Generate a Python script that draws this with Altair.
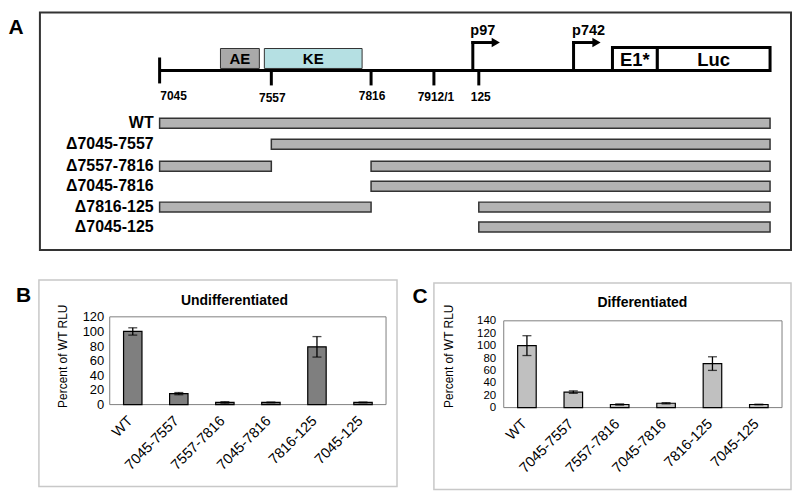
import altair as alt
import pandas as pd

FONT = "Liberation Sans"

# ---------------- Panel A: schematic map (schematic map units) ----------------
landmarks = ["7045", "7557", "7816", "7912/1", "125", "end"]
landmark_x = [150, 262, 362, 425, 470, 762]
tick_y1 = [49, 62, 62, 62, 62]
tick_y2 = [75, 77, 77, 77, 77]
tick_label_x = [164, 263, 363, 427, 472]
tick_label_y = [92, 94, 92, 93, 93]

constructs = ["WT", "Δ7045-7557", "Δ7557-7816", "Δ7045-7816", "Δ7816-125", "Δ7045-125"]
construct_row = [115, 136, 158, 178, 199, 219]
kept_start = [["7045"], ["7557"], ["7045", "7816"], ["7816"], ["7045", "125"], ["125"]]
kept_end = [["end"], ["end"], ["7557", "end"], ["end"], ["7816", "end"], ["end"]]

elements = ["AE", "KE"]
element_x1 = [211, 255]
element_x2 = [250, 353]
element_fill = ["#a9a9a9", "#b5e0e3"]

reporters = ["E1*", "Luc"]
reporter_x1 = [604, 649]
reporter_x2 = [649, 762]

promoters = ["p97", "p742"]
promoter_x = [464, 565]
promoter_label_x = [474, 580]

# ---------------- Panels B, C: luciferase data ----------------
samples = ["WT", "7045-7557", "7557-7816", "7045-7816", "7816-125", "7045-125"]
undiff = [100, 15, 3, 3, 79, 3]
undiff_err = [5, 1.5, 1, 0.5, 14, 0.5]
diff = [100, 25, 5, 7, 71, 5]
diff_err = [16, 2, 1, 1, 11, 0.5]

# ---------------- build panel A ----------------
xs = alt.Scale(domain=[0, 784], nice=False, zero=False)
ys = alt.Scale(domain=[0, 264], nice=False, zero=False, reverse=True)
lm = dict(zip(landmarks, landmark_x))


def X(f):
    return alt.X(f, type="quantitative", scale=xs, axis=None)


def Y(f):
    return alt.Y(f, type="quantitative", scale=ys, axis=None)


one = alt.Data(values=[{"a": 1}])

frameA = alt.Chart(one).mark_rect(fill=None, stroke="#333333", strokeWidth=2).encode(
    x=alt.value(30), x2=alt.value(783), y=alt.value(4), y2=alt.value(242))
letterA = alt.Chart(one).mark_text(text="A", font=FONT, fontSize=21, fontWeight="bold",
                                   align="center", baseline="alphabetic").encode(
    x=alt.value(6), y=alt.value(25))

main_df = pd.DataFrame({"x1": [lm["7045"]], "x2": [reporter_x1[0]], "y": [62]})
main_line = alt.Chart(main_df).mark_rule(color="black", strokeWidth=3).encode(
    x=X("x1"), x2="x2", y=Y("y"))

ticks_df = pd.DataFrame({"x": landmark_x[:5], "y1": tick_y1, "y2": tick_y2,
                         "lab": landmarks[:5], "lx": tick_label_x, "ly": tick_label_y})
ticks = alt.Chart(ticks_df).mark_rule(color="black", strokeWidth=3).encode(
    x=X("x"), y=Y("y1"), y2="y2")
tick_labels = alt.Chart(ticks_df).mark_text(font=FONT, fontSize=12, fontWeight="bold",
                                            baseline="alphabetic").encode(
    x=X("lx"), y=Y("ly"), text="lab:N")

el_df = pd.DataFrame({"name": elements, "x1": element_x1, "x2": element_x2,
                      "fill": element_fill, "y1": [40, 40], "y2": [60, 60]})
el_df["cx"] = (el_df.x1 + el_df.x2) / 2
el_df["cy"] = 51
el_boxes = alt.Chart(el_df).mark_rect(stroke="#333333", strokeWidth=1).encode(
    x=X("x1"), x2="x2", y=Y("y1"), y2="y2", fill=alt.Fill("fill:N", scale=None))
el_text = alt.Chart(el_df).mark_text(font=FONT, fontSize=15, fontWeight="bold",
                                     baseline="middle").encode(
    x=X("cx"), y=Y("cy"), text="name:N")

rep_df = pd.DataFrame({"name": reporters, "x1": reporter_x1, "x2": reporter_x2,
                       "y1": [39, 39], "y2": [62, 62]})
rep_df["cx"] = (rep_df.x1 + rep_df.x2) / 2
rep_df["cy"] = 52
rep_boxes = alt.Chart(rep_df).mark_rect(fill="white", stroke="black", strokeWidth=3).encode(
    x=X("x1"), x2="x2", y=Y("y1"), y2="y2")
rep_text = alt.Chart(rep_df).mark_text(font=FONT, fontSize=18.5, fontWeight="bold",
                                       baseline="middle").encode(
    x=X("cx"), y=Y("cy"), text="name:N")

pr_df = pd.DataFrame({"name": promoters, "x": promoter_x, "lx": promoter_label_x})
pr_df["xa"] = pr_df.x + 20
pr_df["xh"] = pr_df.x + 23
pr_df["top"] = 34
pr_df["base"] = 62
pr_df["ly"] = 26
pr_vert = alt.Chart(pr_df).mark_rule(color="black", strokeWidth=3, strokeCap="square").encode(
    x=X("x"), y=Y("top"), y2="base")
pr_horiz = alt.Chart(pr_df).mark_rule(color="black", strokeWidth=3, strokeCap="square").encode(
    x=X("x"), x2="xa", y=Y("top"))
pr_head = alt.Chart(pr_df).mark_point(shape="triangle-right", filled=True, color="black",
                                      size=90, opacity=1).encode(
    x=X("xh"), y=Y("top"))
pr_text = alt.Chart(pr_df).mark_text(font=FONT, fontSize=14.5, fontWeight="bold",
                                     baseline="alphabetic").encode(
    x=X("lx"), y=Y("ly"), text="name:N")

seg_rows = []
for name, row, starts, ends in zip(constructs, construct_row, kept_start, kept_end):
    for s, e in zip(starts, ends):
        seg_rows.append({"name": name, "x1": lm[s], "x2": lm[e], "y1": row - 5, "y2": row + 5})
seg_df = pd.DataFrame(seg_rows)
segments = alt.Chart(seg_df).mark_rect(fill="#b3b3b3", stroke="#333333", strokeWidth=1.5).encode(
    x=X("x1"), x2="x2", y=Y("y1"), y2="y2")
con_df = pd.DataFrame({"name": constructs, "y": construct_row})
con_df["x"] = 144
con_text = alt.Chart(con_df).mark_text(font=FONT, fontSize=16, fontWeight="bold",
                                       align="right", baseline="middle").encode(
    x=X("x"), y=Y("y"), text="name:N")

panelA = alt.layer(frameA, letterA, main_line, ticks, tick_labels, el_boxes, el_text,
                   pr_vert, pr_horiz, pr_head, pr_text, rep_boxes, rep_text,
                   segments, con_text).properties(width=784, height=264)


# ---------------- bar panels ----------------
def bar_panel(values, errs, fill, ymax, title, letter, W, H, frame, plot,
              letter_xy, title_xy, label_pad, ylab_size):
    df = pd.DataFrame({"sample": samples, "v": values, "e": errs})
    df["lo"] = df.v - df.e
    df["hi"] = df.v + df.e
    pl, pr, pt, pb = plot
    xsc = alt.Scale(domain=samples, range=[pl, pr], paddingInner=0.6, paddingOuter=0.3)
    ysc = alt.Scale(domain=[0, ymax], range=[pb, pt], nice=False, zero=True)
    xaxis = alt.Axis(orient="bottom", offset=pb - H, labelAngle=315, title=None,
                     domain=False, ticks=False, labelFont=FONT, labelFontSize=14.5,
                     labelColor="black", labelAlign="right", labelBaseline="top",
                     labelPadding=9, labelOffset=-7, labelOverlap=False)
    yaxis = alt.Axis(orient="left", offset=-pl, values=list(range(0, ymax + 1, 20)),
                     domain=False, grid=False, ticks=False, labelOverlap=False,
                     labelFont=FONT, labelFontSize=ylab_size, labelColor="black",
                     labelPadding=label_pad, title="Percent of WT RLU", titleFont=FONT,
                     titleFontSize=12, titleFontWeight="normal", titleColor="black",
                     titleX=-(pl - title_xy[2]), titleY=80, titleAngle=270,
                     titleAlign="center", titleBaseline="middle")
    xe = alt.X("sample:N", sort=samples, scale=xsc, axis=xaxis)

    def ye(f):
        return alt.Y(f, type="quantitative", scale=ysc, axis=yaxis)

    outer = alt.Chart(one).mark_rect(fill=None, stroke="#c8c8c8", strokeWidth=1.5).encode(
        x=alt.value(frame[0]), x2=alt.value(frame[1]), y=alt.value(frame[2]), y2=alt.value(frame[3]))
    box = alt.Chart(one).mark_rect(fill=None, stroke="#808080", strokeWidth=1).encode(
        x=alt.value(pl), x2=alt.value(pr), y=alt.value(pt), y2=alt.value(pb))
    bars = alt.Chart(df).mark_bar(fill=fill, stroke="black", strokeWidth=1.2).encode(
        x=xe, y=ye("v"))
    err = alt.Chart(df).mark_rule(color="black", strokeWidth=1.3).encode(
        x=xe, y=ye("lo"), y2="hi")
    cap_lo = alt.Chart(df).mark_tick(color="black", thickness=1.3, size=9).encode(
        x=xe, y=ye("lo"))
    cap_hi = alt.Chart(df).mark_tick(color="black", thickness=1.3, size=9).encode(
        x=xe, y=ye("hi"))
    let = alt.Chart(one).mark_text(text=letter, font=FONT, fontSize=21, fontWeight="bold",
                                   align="center", baseline="alphabetic").encode(
        x=alt.value(letter_xy[0]), y=alt.value(letter_xy[1]))
    ttl = alt.Chart(one).mark_text(text=title, font=FONT, fontSize=14, fontWeight="bold",
                                   align="center", baseline="alphabetic").encode(
        x=alt.value(title_xy[0]), y=alt.value(title_xy[1]))
    return alt.layer(outer, box, bars, err, cap_lo, cap_hi, let, ttl).properties(width=W, height=H)


panelB = bar_panel(undiff, undiff_err, "#7f7f7f", 120, "Undifferentiated", "B",
                   392, 217, (29, 388, 4, 211), (100, 377, 41, 129),
                   (13.5, 26), (225, 29, 53), 6, 13)
panelC = bar_panel(diff, diff_err, "#c0c0c0", 140, "Differentiated", "C",
                   382, 217, (23, 381, 7, 214), (93, 372, 45, 132),
                   (9, 27), (232, 31, 38), 8, 11.5)

chart = alt.vconcat(panelA, alt.hconcat(panelB, panelC, spacing=10), spacing=4).properties(
    padding=0).configure(font=FONT).configure_view(stroke=None)

chart.save("out.html", embed_options={"renderer": "svg", "actions": False})
